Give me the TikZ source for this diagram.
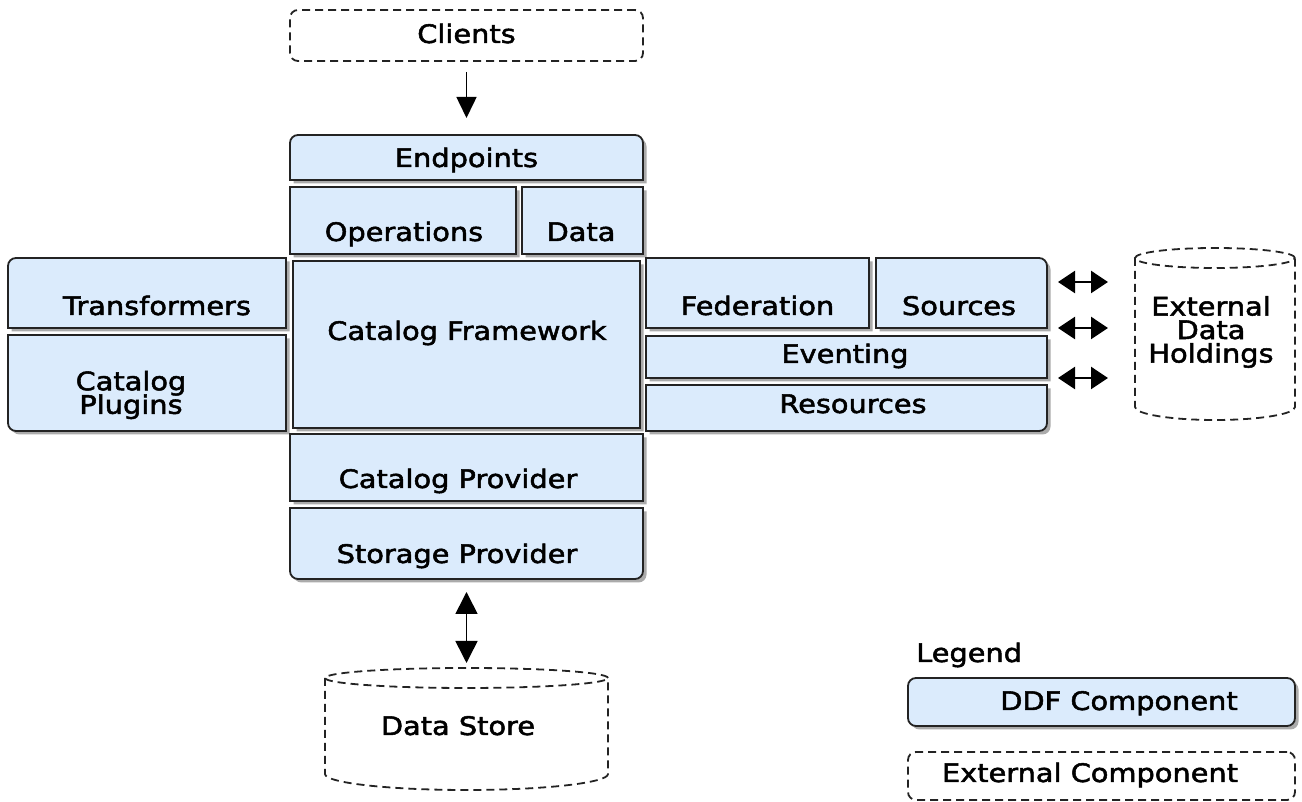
\documentclass[tikz,border=0pt]{standalone}
\usepackage{fontspec}
\setmainfont{DejaVu Sans}[FakeBold=2, FakeStretch=1.13]
\usepackage{tikz}
\usetikzlibrary{arrows.meta,shadows}

\definecolor{ddfblue}{RGB}{219,235,252}
\definecolor{edgegray}{RGB}{35,35,35}

% outline of a DDF box: node name, then corner radii sw, nw, ne, se
\newcommand{\ddfoutline}[5]{%
  \path[ddfline] ([yshift=#2]#1.south west)
    -- ([yshift=-#3]#1.north west) arc[start angle=180, end angle=90, radius=#3]
    -- ([xshift=-#4]#1.north east) arc[start angle=90, end angle=0, radius=#4]
    -- ([yshift=#5]#1.south east) arc[start angle=0, end angle=-90, radius=#5]
    -- ([xshift=#2]#1.south west) arc[start angle=270, end angle=180, radius=#2]
    -- cycle;}

\begin{document}
\begin{tikzpicture}[x=1pt, y=1pt,
  slot/.style 2 args={rectangle, inner sep=0pt, outer sep=0pt,
    minimum width=#1pt, minimum height=#2pt},
  ddfline/.style={draw=edgegray, line width=1.8pt, fill=ddfblue,
    drop shadow={shadow xshift=3.5pt, shadow yshift=-3.5pt, fill=black, opacity=0.33}},
  extline/.style={draw=edgegray, line width=1.8pt, dash pattern=on 8pt off 5pt},
  txt/.style={font={\fontsize{25.5}{23.5}\selectfont\setlength{\lineskiplimit}{-50pt}},
    align=center, inner sep=0pt, anchor=base},
  arr/.style={-{Triangle[length=21pt, width=20pt]}, line width=1.6pt},
  dbl/.style={{Triangle[length=#1, width=22pt]}-{Triangle[length=#1, width=22pt]}},
  ]
  \useasboundingbox (0,0) rectangle (1302,802);

  % External clients
  \node[slot={353}{51}, extline, rounded corners=8pt] (clients) at (466.5,766.5) {};
  \node[txt] (clientsT) at (466.5,759) {Clients};

  % DDF boxes
  \node[slot={353}{45}] (endp) at (466.5,644.5) {};
  \node[slot={226}{67}] (ops) at (403,581.5) {};
  \node[slot={121}{67}] (data) at (582.5,581.5) {};
  \node[slot={278}{70}] (trans) at (147,509) {};
  \node[slot={278}{96}] (plug) at (147,419) {};
  \node[slot={347}{167}] (cfw) at (466.5,457.5) {};
  \node[slot={223}{70}] (fed) at (757.5,509) {};
  \node[slot={171}{70}] (src) at (961.5,509) {};
  \node[slot={401}{42}] (evt) at (846.5,445) {};
  \node[slot={401}{46}] (res) at (846.5,394) {};
  \node[slot={353}{67}] (cprov) at (466.5,334.5) {};
  \node[slot={353}{71}] (sprov) at (466.5,258.5) {};

  \ddfoutline{endp}{0pt}{8pt}{8pt}{0pt}
  \ddfoutline{ops}{0pt}{0pt}{0pt}{0pt}
  \ddfoutline{data}{0pt}{0pt}{0pt}{0pt}
  \ddfoutline{trans}{0pt}{8pt}{0pt}{0pt}
  \ddfoutline{plug}{8pt}{0pt}{0pt}{0pt}
  \ddfoutline{cfw}{0pt}{0pt}{0pt}{0pt}
  \ddfoutline{fed}{0pt}{0pt}{0pt}{0pt}
  \ddfoutline{src}{0pt}{0pt}{8pt}{0pt}
  \ddfoutline{evt}{0pt}{0pt}{0pt}{0pt}
  \ddfoutline{res}{0pt}{0pt}{0pt}{8pt}
  \ddfoutline{cprov}{0pt}{0pt}{0pt}{0pt}
  \ddfoutline{sprov}{8pt}{0pt}{0pt}{8pt}

  \node[txt] (endpT) at (466.5,635) {Endpoints};
  \node[txt] (opsT) at (404,561) {Operations};
  \node[txt] (dataT) at (581,561) {Data};
  \node[txt] (transT) at (157,487) {Transformers};
  \node[txt, anchor=center] (plugT) at (131,407) {Catalog\\Plugins};
  \node[txt] (cfwT) at (467,462) {Catalog Framework};
  \node[txt] (fedT) at (757.5,487) {Federation};
  \node[txt] (srcT) at (959,487) {Sources};
  \node[txt] (evtT) at (845,439) {Eventing};
  \node[txt] (resT) at (853,389) {Resources};
  \node[txt] (cprovT) at (458,314) {Catalog Provider};
  \node[txt] (sprovT) at (457,239) {Storage Provider};

  % Data stores
  \node[slot={283}{122}] (ds) at (466.5,73) {};
  \draw[extline] ([yshift=-10pt]ds.north) ellipse [x radius=141.5pt, y radius=10pt];
  \draw[extline] ([yshift=-10pt]ds.north west) -- ([yshift=16pt]ds.south west)
    arc[start angle=180, end angle=360, x radius=141.5pt, y radius=16pt]
    -- ([yshift=-10pt]ds.north east);
  \node[txt] (dsT) at (458,67) {Data Store};

  \node[slot={160}{172}] (edh) at (1215,468) {};
  \draw[extline] ([yshift=-10pt]edh.north) ellipse [x radius=80pt, y radius=10pt];
  \draw[extline] ([yshift=-10pt]edh.north west) -- ([yshift=13pt]edh.south west)
    arc[start angle=180, end angle=360, x radius=80pt, y radius=13pt]
    -- ([yshift=-10pt]edh.north east);
  \node[txt, anchor=center] (edhT) at (1211,470) {External\\Data\\Holdings};

  % Arrows
  \draw[arr, shorten <=11pt, shorten >=17pt] (clients) -- (endp);
  \draw[dbl=22pt, line width=1.6pt, shorten <=13pt, shorten >=5pt] (sprov) -- (ds);
  \draw[dbl=17pt, line width=2.5pt, shorten <=11pt, shorten >=27pt] ([yshift=11pt]src.east) -- ([yshift=52pt]edh.west);
  \draw[dbl=17pt, line width=2.5pt, shorten <=11pt, shorten >=27pt] (src.south east) -- (src.south east -| edh.west);
  \draw[dbl=17pt, line width=2.5pt, shorten <=11pt, shorten >=27pt] (evt.south east) -- (evt.south east -| edh.west);

  % Legend
  \node[txt, anchor=base west] (legendT) at (916,140) {Legend};
  \node[slot={387}{48}] (ddfleg) at (1101.5,100) {};
  \ddfoutline{ddfleg}{8pt}{8pt}{8pt}{8pt}
  \node[txt] (ddflegT) at (1119,92) {DDF Component};
  \node[slot={387}{48}, extline, rounded corners=8pt] (extleg) at (1101.5,26) {};
  \node[txt] (extlegT) at (1090,20) {External Component};
\end{tikzpicture}
\end{document}
